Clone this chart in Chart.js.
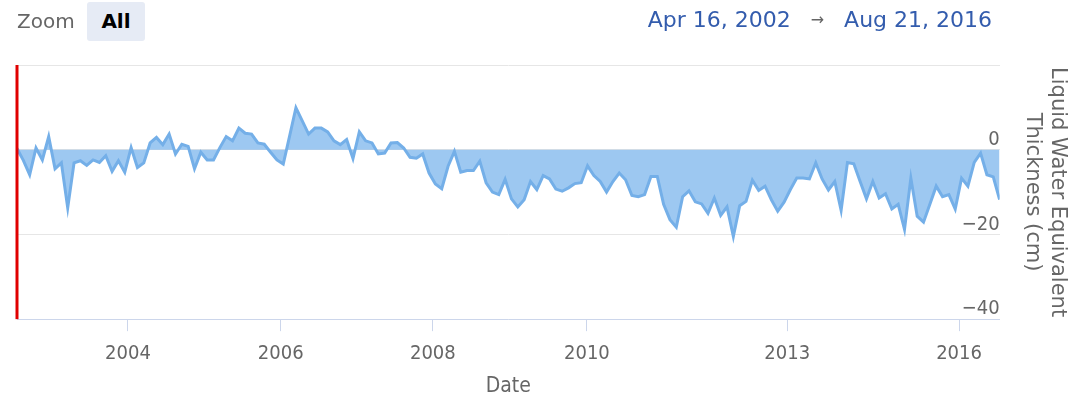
<!DOCTYPE html>
<html>
<head>
<meta charset="utf-8">
<script src="https://cdn.jsdelivr.net/npm/chart.js@4"></script>
<style>
  html, body { margin: 0; padding: 0; background: #fff; }
  #wrap { position: relative; width: 1079px; height: 395px; }
  #chart { position: absolute; left: 0; top: 0; }
  .hdr { position: absolute; font-family: 'DejaVu Sans'; white-space: nowrap; }
  #zoomLbl { left: 17px; top: 9px; font-size: 20px; color: #666; }
  #allBtn { left: 87px; top: 2px; width: 58px; height: 39px; line-height: 39px; background: #e6ebf5;
            border-radius: 3px; text-align: center; font-weight: bold; font-size: 20px; color: #000; }
  #range { right: 87px; top: 7px; font-size: 22px; color: #335cad; }
  #range .arrow { color: #666; font-size: 16px; margin: 0 20px; vertical-align: 2px; }
</style>
</head>
<body>
<div id="wrap">
  <canvas id="chart" width="1079" height="395"></canvas>
  <div class="hdr" id="zoomLbl">Zoom</div>
  <div class="hdr" id="allBtn">All</div>
  <div class="hdr" id="range">Apr 16, 2002<span class="arrow">→</span>Aug 21, 2016</div>
</div>
<script>
// monthly GRACE solutions, Apr 2002 - Aug 2016 (ordinal axis, one step per solution)
const thickness = [
  0.3, -2.5, -5.9, 0.4, -2.4, 3.1, -4.5, -3.1, -13.7, -3.1,
  -2.6, -3.7, -2.4, -3.0, -1.4, -5.1, -2.6, -5.3, 0.5, -4.2,
  -3.1, 1.6, 2.9, 1.2, 3.7, -1.0, 1.3, 0.8, -4.5, -0.6,
  -2.4, -2.4, 0.5, 3.1, 2.1, 5.1, 3.9, 3.7, 1.6, 1.3,
  -0.6, -2.4, -3.4, 3.2, 9.9, 6.8, 3.7, 5.1, 5.1, 4.2,
  2.1, 1.2, 2.4, -2.1, 4.2, 2.1, 1.6, -1.0, -0.8, 1.6,
  1.7, 0.4, -1.8, -2.0, -1.0, -5.5, -8.1, -9.2, -3.9, -0.4,
  -5.3, -4.9, -4.9, -2.7, -7.8, -10.0, -10.6, -7.0, -11.6, -13.5,
  -11.8, -7.5, -9.4, -6.1, -6.9, -9.3, -9.8, -9.0, -8.0, -7.8,
  -3.8, -6.1, -7.5, -10.0, -7.5, -5.5, -7.1, -10.8, -11.1, -10.6,
  -6.3, -6.3, -12.9, -16.5, -18.3, -11.1, -9.7, -12.3, -12.8, -15.0,
  -11.4, -15.5, -13.5, -20.5, -13.2, -12.2, -7.2, -9.6, -8.6, -11.8,
  -14.5, -12.4, -9.4, -6.7, -6.7, -6.9, -3.1, -6.9, -9.5, -7.5,
  -14.3, -3.0, -3.3, -7.5, -11.6, -7.5, -11.4, -10.4, -14.0, -12.9,
  -18.8, -6.7, -15.7, -17.1, -12.9, -8.6, -11.1, -10.6, -14.0, -6.7,
  -8.6, -3.0, -0.8, -5.9, -6.4, -11.8
];

// where the year ticks fall on the ordinal axis
const tickPositions = [17.5, 41.6, 65.6, 89.9, 121.5, 148.6];
const tickLabels = ['2004', '2006', '2008', '2010', '2013', '2016'];

const yTicks = [-40, -20, 0, 20];

const redEdge = {
  id: 'redEdge',
  afterDraw(chart) {
    const { ctx, chartArea } = chart;
    ctx.save();
    ctx.strokeStyle = '#e00000';
    ctx.lineWidth = 3;
    ctx.beginPath();
    ctx.moveTo(chartArea.left, chartArea.top);
    ctx.lineTo(chartArea.left, chartArea.bottom);
    ctx.stroke();
    ctx.restore();
  }
};

Chart.defaults.font.family = 'DejaVu Sans';
Chart.defaults.color = '#666';

const config = {
  type: 'line',
  data: {
    datasets: [{
      label: 'Liquid Water Equivalent Thickness',
      data: thickness.map((v, i) => ({ x: i, y: v })),
      borderColor: '#74afe8',
      backgroundColor: 'rgba(124,181,236,0.75)',
      borderWidth: 3,
      fill: 'origin',
      tension: 0,
      pointRadius: 0
    }]
  },
  options: {
    responsive: false,
    animation: false,
    layout: { padding: { left: 17, right: 0, top: 65, bottom: 0 } },
    plugins: { legend: { display: false }, tooltip: { enabled: false } },
    scales: {
      x: {
        type: 'linear',
        min: 0,
        max: thickness.length - 1,
        afterBuildTicks: axis => { axis.ticks = tickPositions.map(v => ({ value: v })); },
        ticks: {
          callback: (value, index) => tickLabels[index],
          font: { family: 'DejaVu Sans Condensed', size: 20 },
          color: '#666',
          maxRotation: 0,
          padding: 11
        },
        grid: { drawOnChartArea: false, drawTicks: true, tickLength: 12, color: '#ccd6eb' },
        border: { color: '#ccd6eb', width: 1 },
        title: {
          display: true,
          text: 'Date',
          font: { family: 'DejaVu Sans Condensed', size: 21, lineHeight: 0.85 },
          color: '#666',
          padding: { top: 0, bottom: 0 }
        }
      },
      y: {
        position: 'right',
        min: -40,
        max: 20,
        afterBuildTicks: axis => { axis.ticks = yTicks.map(v => ({ value: v })); },
        ticks: {
          mirror: true,
          padding: 0,
          labelOffset: -10,
          font: { family: 'DejaVu Sans Condensed', size: 20 },
          color: '#666',
          callback: v => v === 20 ? '' : String(v).replace('-', '\u2212')
        },
        grid: { color: '#e6e6e6', drawTicks: false },
        border: { display: false },
        title: {
          display: true,
          text: ['Liquid Water Equivalent', 'Thickness (cm)'],
          font: { size: 21 },
          color: '#666',
          padding: { top: 9, bottom: 20 }
        }
      }
    }
  },
  plugins: [redEdge]
};

new Chart(document.getElementById('chart'), config);
</script>
</body>
</html>
